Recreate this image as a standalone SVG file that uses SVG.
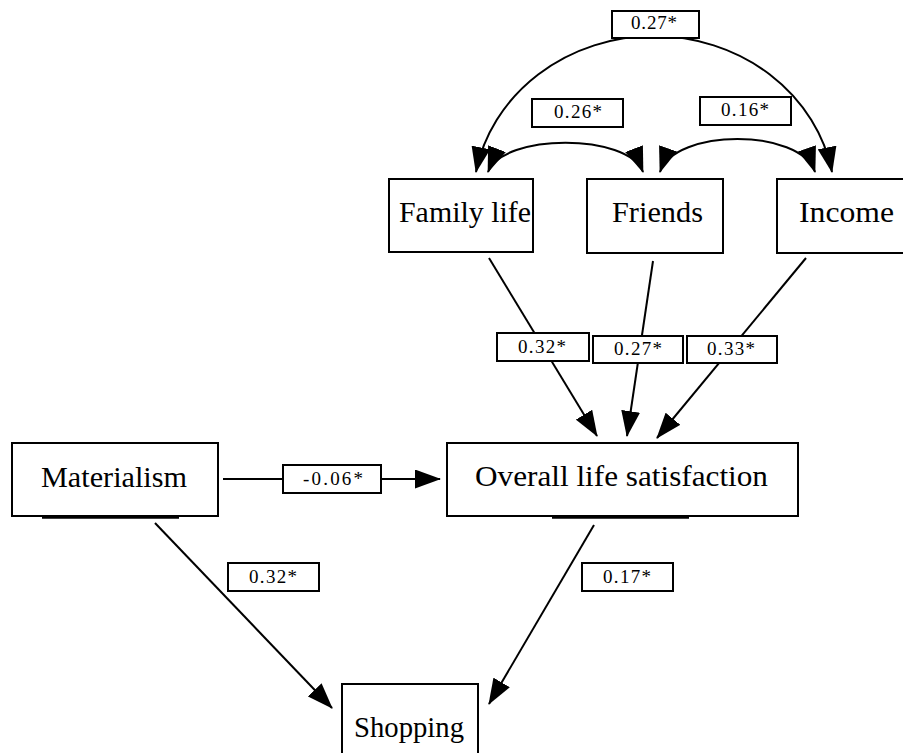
<svg xmlns="http://www.w3.org/2000/svg" width="903" height="753" viewBox="0 0 903 753">
<style>
.box{fill:#fff;stroke:#000;stroke-width:2}
.lbl{fill:#fff;stroke:#000;stroke-width:2}
.nt{font-family:"Liberation Serif","Times New Roman",serif;font-size:29px;fill:#000}
.lt{font-family:"Liberation Serif","Times New Roman",serif;font-size:19px;fill:#000;text-anchor:middle}
.edge{fill:none;stroke:#000;stroke-width:2}
.ul{stroke:#000;stroke-width:2.5}
</style>
<defs>
<marker id="ah" markerUnits="userSpaceOnUse" markerWidth="26" markerHeight="19" viewBox="0 0 26 19" refX="25" refY="9.5" orient="auto-start-reverse">
<path d="M0,0 L26,9.5 L0,19 z" fill="#000"/>
</marker>
</defs>
<g id="connectors">
<path class="edge" d="M476,172 A181,166 0 0 1 832,172" marker-start="url(#ah)" marker-end="url(#ah)"/>
<path class="edge" d="M488,172 C503,133 628,133 643,172" marker-start="url(#ah)" marker-end="url(#ah)"/>
<path class="edge" d="M660,172 C675,128 800,128 815,172" marker-start="url(#ah)" marker-end="url(#ah)"/>
<line class="edge" x1="489" y1="258" x2="597" y2="436" marker-end="url(#ah)"/>
<line class="edge" x1="653" y1="261" x2="627" y2="436" marker-end="url(#ah)"/>
<line class="edge" x1="806" y1="258" x2="657" y2="438" marker-end="url(#ah)"/>
<line class="edge" x1="223" y1="479" x2="440" y2="479" marker-end="url(#ah)"/>
<line class="edge" x1="155" y1="523" x2="332" y2="708" marker-end="url(#ah)"/>
<line class="edge" x1="594" y1="525" x2="489" y2="704" marker-end="url(#ah)"/>
<g id="labels">
<rect class="lbl" x="612" y="11" width="87" height="27"/><text class="lt" x="654" y="29" textLength="46">0.27*</text>
<rect class="lbl" x="532" y="99" width="91" height="28"/><text class="lt" x="578" y="118" textLength="48">0.26*</text>
<rect class="lbl" x="700" y="97" width="91" height="28"/><text class="lt" x="745" y="116" textLength="48">0.16*</text>
<rect class="lbl" x="497" y="333" width="92" height="28"/><text class="lt" x="542" y="353" textLength="48">0.32*</text>
<rect class="lbl" x="593" y="336" width="90" height="27"/><text class="lt" x="638" y="355" textLength="48">0.27*</text>
<rect class="lbl" x="687" y="336" width="90" height="27"/><text class="lt" x="731" y="355" textLength="48">0.33*</text>
<rect class="lbl" x="283" y="465" width="98" height="28"/><text class="lt" x="333" y="485" textLength="60">-0.06*</text>
<rect class="lbl" x="228" y="563" width="91" height="28"/><text class="lt" x="273" y="583" textLength="48">0.32*</text>
<rect class="lbl" x="582" y="563" width="91" height="28"/><text class="lt" x="627" y="583" textLength="48">0.17*</text>
</g>
</g>
<g id="family">
<rect class="box" x="389" y="179" width="144" height="73"/>
<text class="nt" x="399" y="222" textLength="132" lengthAdjust="spacingAndGlyphs">Family life</text>
</g>
<g id="friends">
<rect class="box" x="587" y="179" width="136" height="74"/>
<text class="nt" x="612" y="222" textLength="91" lengthAdjust="spacingAndGlyphs">Friends</text>
</g>
<g id="income">
<rect class="box" x="777" y="179" width="128" height="74"/>
<text class="nt" x="799" y="222" textLength="95" lengthAdjust="spacingAndGlyphs">Income</text>
</g>
<g id="materialism">
<rect class="box" x="12" y="443" width="206" height="73"/>
<line class="ul" x1="42" y1="517.5" x2="179" y2="517.5"/>
<text class="nt" x="41" y="487" textLength="146" lengthAdjust="spacingAndGlyphs">Materialism</text>
</g>
<g id="overall">
<rect class="box" x="447" y="443" width="351" height="73"/>
<line class="ul" x1="552" y1="517.5" x2="689" y2="517.5"/>
<text class="nt" x="475" y="486" textLength="293" lengthAdjust="spacingAndGlyphs">Overall life satisfaction</text>
</g>
<g id="shopping">
<rect class="box" x="342" y="684" width="136" height="80"/>
<text class="nt" x="354" y="737" textLength="110" lengthAdjust="spacingAndGlyphs">Shopping</text>
</g>
</svg>
